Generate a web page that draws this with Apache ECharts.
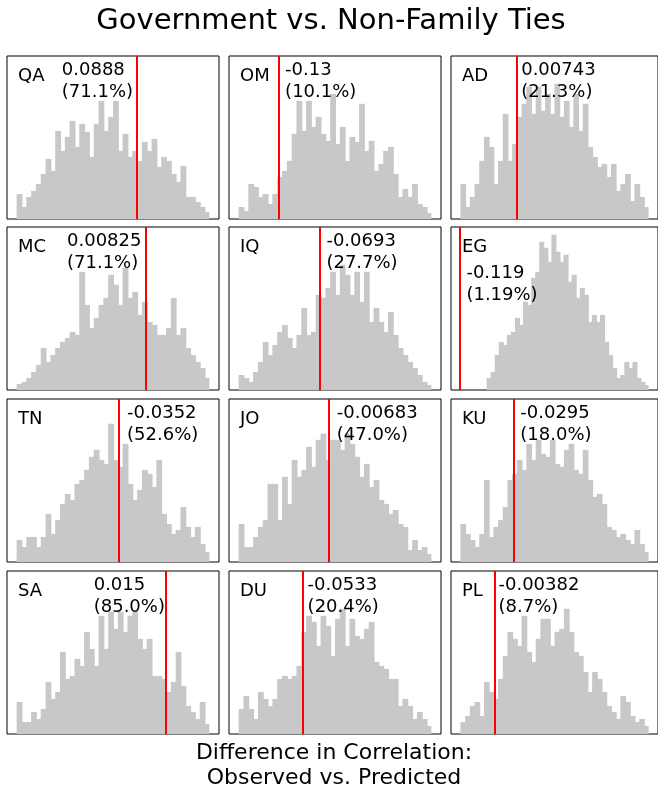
<!DOCTYPE html>
<html>
<head>
<meta charset="utf-8">
<script src="https://cdn.jsdelivr.net/npm/echarts@6/dist/echarts.min.js"></script>
<style>
  html, body { margin: 0; padding: 0; background: #ffffff; }
  #chart { width: 658px; height: 792px; }
</style>
</head>
<body>
<div id="chart"></div>
<script>
// Countries in panel order (row by row)
const countries = ['QA', 'OM', 'AD', 'MC', 'IQ', 'EG', 'TN', 'JO', 'KU', 'SA', 'DU', 'PL'];

// Observed difference in correlation (red line) and its percentile
const observed = [0.0888, -0.13, 0.00743, 0.00825, -0.0693, -0.119, -0.0352, -0.00683, -0.0295, 0.015, -0.0533, -0.00382];
const percentiles = ['71.1%', '10.1%', '21.3%', '71.1%', '27.7%', '1.19%', '52.6%', '47.0%', '18.0%', '85.0%', '20.4%', '8.7%'];

// Range covered by each null distribution histogram
const histLo = [-0.159, -0.214, -0.109, -0.257, -0.239, -0.064, -0.252, -0.198, -0.144, -0.299, -0.184, -0.072];
const histHi = [0.241, 0.186, 0.291, 0.143, 0.161, 0.276, 0.148, 0.202, 0.256, 0.101, 0.216, 0.328];

// Histogram bin counts
const countsQA = [25,12,22,28,35,45,60,48,88,68,82,98,72,95,87,62,95,118,88,102,118,68,85,62,68,58,77,68,80,52,62,58,45,37,53,22,22,17,12,7];
const countsOM = [12,8,35,32,22,25,15,25,42,48,58,85,118,88,118,92,102,85,78,125,75,92,58,82,77,115,68,78,48,55,68,72,45,22,30,22,35,15,12,6];
const countsAD = [35,12,22,35,58,82,72,35,58,105,58,75,102,115,132,105,132,108,125,105,135,102,118,92,125,88,115,72,62,52,55,42,55,28,35,45,18,35,22,12];
const countsMC = [6,8,12,18,25,42,28,35,42,48,52,58,55,118,85,62,72,85,92,115,105,85,122,92,98,75,88,68,65,55,55,62,92,55,62,42,35,28,22,12];
const countsIQ = [15,12,8,18,28,48,35,45,58,65,52,42,55,82,55,58,95,92,102,118,95,125,115,95,118,88,118,68,82,68,58,78,55,42,35,28,22,15,8,5];
const countsEG = [12,18,35,48,45,55,58,72,65,88,85,112,118,148,142,128,155,138,128,135,108,115,92,102,95,68,75,68,75,48,35,22,12,15,28,22,28,12,8,5];
const countsTN = [22,15,25,25,15,25,48,28,42,58,68,62,78,82,92,105,112,102,98,138,102,95,118,78,62,72,92,88,75,102,48,38,28,32,55,35,25,35,18,10];
const countsJO = [38,15,15,25,35,42,78,78,42,85,58,102,85,92,115,95,122,128,102,122,122,112,128,118,105,85,98,75,82,62,58,48,52,38,35,12,22,12,15,8];
const countsKU = [38,28,22,15,28,82,25,35,42,55,82,88,102,92,118,102,122,108,105,122,98,95,112,118,92,88,112,82,65,68,58,35,32,25,28,22,18,32,18,10];
const countsSA = [32,12,12,22,15,25,52,35,42,82,55,58,75,68,102,85,68,118,85,122,105,122,102,118,122,95,85,95,58,58,55,42,52,82,48,28,22,15,32,10];
const countsDU = [25,38,25,15,42,35,28,35,55,58,55,58,68,102,118,112,88,118,108,78,115,125,88,115,98,95,105,112,72,68,65,55,55,28,35,28,15,22,15,8];
const countsPL = [12,18,28,32,18,52,42,35,55,78,102,95,88,118,82,72,95,115,115,88,102,105,125,102,82,78,62,42,62,55,42,28,22,15,38,32,18,12,15,8];
const counts = [countsQA, countsOM, countsAD, countsMC, countsIQ, countsEG,
                countsTN, countsJO, countsKU, countsSA, countsDU, countsPL];

const titleText = 'Government vs. Non-Family Ties';
const xLabelText = 'Difference in Correlation:\nObserved vs. Predicted';

// ---- layout and styling ----
const FONT_FAMILY = '"DejaVu Sans", "Liberation Sans", sans-serif';
const colLeft = [7, 229, 451];
const rowTop = [56, 227, 399, 571];
const cellW = 212, cellH = 163;
const barColor = '#c8c8c8';
const lineColor = '#ff0000';

// Shared y scale across all panels
const yMax = Math.max(...counts.flat()) * 1.05;

const grids = [], xAxes = [], yAxes = [], series = [];
countries.forEach((c, i) => {
  const r = Math.floor(i / 3), col = i % 3;
  grids.push({
    left: colLeft[col], top: rowTop[r], width: cellW, height: cellH,
    show: true, borderColor: '#000', borderWidth: 1, backgroundColor: 'transparent'
  });
  const lo = histLo[i], hi = histHi[i];
  const dMin = Math.min(lo, observed[i]), dMax = Math.max(hi, observed[i]);
  const pad = (dMax - dMin) * 0.05;
  xAxes.push({ type: 'value', gridIndex: i, min: dMin - pad, max: dMax + pad, show: false });
  yAxes.push({ type: 'value', gridIndex: i, min: 0, max: yMax, show: false });

  const n = counts[i].length, w = (hi - lo) / n;
  const bins = counts[i].map((v, k) => [lo + k * w, lo + (k + 1) * w, v]);
  series.push({
    type: 'custom',
    xAxisIndex: i, yAxisIndex: i,
    data: bins,
    encode: { x: [0, 1], y: 2 },
    z: 2,
    renderItem: (params, api) => {
      const p0 = api.coord([api.value(0), 0]);
      const p1 = api.coord([api.value(1), api.value(2)]);
      const last = params.dataIndex === n - 1;
      return {
        type: 'rect',
        shape: { x: p0[0], y: p1[1], width: p1[0] - p0[0] + (last ? 0 : 1), height: p0[1] - p1[1] },
        style: { fill: barColor }
      };
    },
    markLine: {
      silent: true, symbol: 'none', animation: false,
      label: { show: false },
      lineStyle: { color: lineColor, width: 2, type: 'solid', opacity: 1 },
      emphasis: { disabled: true },
      data: [{ xAxis: observed[i] }]
    },
    animation: false
  });
});

const chart = echarts.init(document.getElementById('chart'), null, { renderer: 'canvas' });
chart.setOption({
  backgroundColor: '#ffffff',
  animation: false,
  grid: grids, xAxis: xAxes, yAxis: yAxes, series: series
});

// ---- text annotations ----
const measure = document.createElement('canvas').getContext('2d');
const labelSize = 18;
measure.font = labelSize + 'px ' + FONT_FAMILY;
const textStyle = (text, size, lh, align) => ({
  text: text, fontSize: size, fontFamily: FONT_FAMILY, fill: '#000',
  lineHeight: lh, align: align, textAlign: align,
  verticalAlign: 'top', textVerticalAlign: 'top'
});

const graphics = [
  { type: 'text', z: 100, x: 331, y: 4, style: textStyle(titleText, 29, 34, 'center') },
  { type: 'text', z: 100, x: 334, y: 741, style: textStyle(xLabelText, 22, 25, 'center') }
];

countries.forEach((c, i) => {
  const r = Math.floor(i / 3), col = i % 3;
  const gx = colLeft[col], gy = rowTop[r];
  const lx = gx + 11;
  graphics.push({ type: 'text', z: 100, x: lx, y: gy + 9, style: textStyle(c, labelSize, 22, 'left') });

  const px = chart.convertToPixel({ gridIndex: i }, [observed[i], 0])[0];
  const lines = [String(observed[i]), '(' + percentiles[i] + ')'];
  const wMax = Math.max(...lines.map(s => measure.measureText(s).width));
  const labelRight = lx + measure.measureText(c).width;
  let tx, ty = gy + 3;
  if (parseFloat(percentiles[i]) > 60) {
    tx = px - 3 - wMax;          // high percentile: text sits left of the line
  } else {
    tx = px + 6;                  // otherwise to the right of the line
    if (px < labelRight + 4) ty += 32;  // drop below the country code when crowded
  }
  graphics.push({ type: 'text', z: 100, x: tx, y: ty, style: textStyle(lines.join('\n'), labelSize, 22, 'left') });
});

chart.setOption({ graphic: graphics });
</script>
</body>
</html>
